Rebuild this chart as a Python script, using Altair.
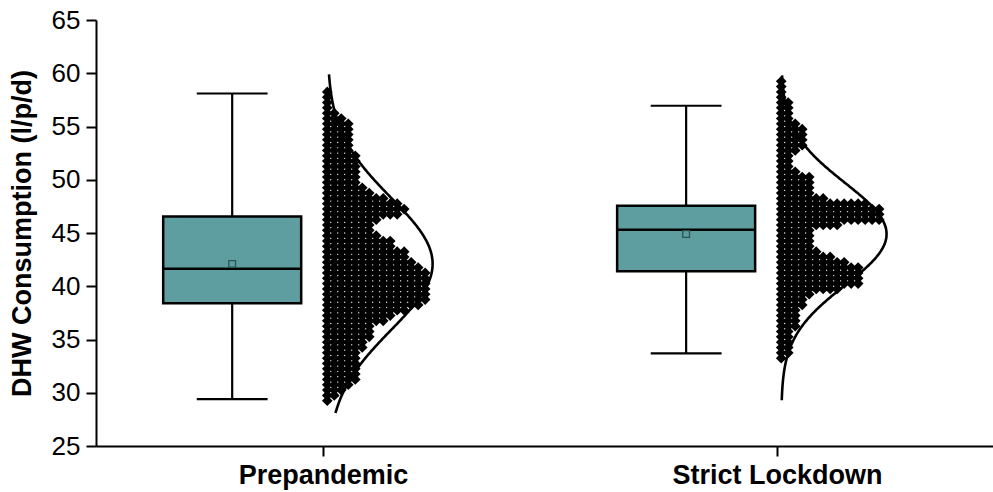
import altair as alt
import pandas as pd

FONT = "Liberation Sans"

groups = ["Prepandemic", "Strict Lockdown"]
group_pos = [1, 2]

# box-plot statistics, l/p/d
whisker_low = [29.4, 33.7]
q1 = [38.4, 41.4]
median = [41.65, 45.3]
q3 = [46.55, 47.55]
whisker_high = [58.1, 56.95]
mean = [42.1, 44.9]

# normal fit drawn beside each box
fit_sd = [6.2, 4.8]
fit_lo = [28.1, 29.3]
fit_hi = [59.9, 59.8]

# daily values binned in 0.5 l/p/d steps (bin centres 29.25 ... 59.25)
bin_centres = [29.25 + 0.5 * i for i in range(61)]
pre_counts = [1, 2, 3, 4, 5, 5, 5, 5, 5, 5,
              6, 6, 7, 7, 7, 9, 10, 12, 14, 15,
              15, 15, 15, 15, 15, 14, 13, 12, 12, 10,
              10, 8, 7, 7, 8, 11, 12, 11, 9, 7,
              6, 5, 5, 5, 5, 5, 5, 4, 4, 4,
              4, 4, 4, 3, 2, 1, 1, 1, 1, 0,
              0]
lock_counts = [0, 0, 0, 0, 0, 0, 0, 0,
               1, 2, 2, 2, 2, 2, 3, 3, 3, 3, 4, 4,
               5, 9, 12, 12, 12, 12, 10, 8, 6, 5, 5, 5,
               5, 9, 15, 15, 15, 13, 7, 5, 5, 5, 5, 3,
               2, 2, 2, 3, 4, 4, 4, 4, 3, 2, 2, 2,
               2, 1, 1, 1, 1]

# layout constants (x-axis units)
BOX_SHIFT = -0.2
BOX_HALF = 0.152
CAP_HALF = 0.078
DOT_START = 0.0095
DOT_STEP = 0.0154
CURVE_AMP = 0.232

boxes = pd.DataFrame({
    "group": groups, "pos": group_pos, "lo": whisker_low, "q1": q1,
    "median": median, "q3": q3, "hi": whisker_high, "mean": mean,
})

rows = []
for g, p, counts in zip(groups, group_pos, [pre_counts, lock_counts]):
    for v, n in zip(bin_centres, counts):
        for k in range(n):
            rows.append({"group": g, "pos": p, "value": v, "k": k})
dots = pd.DataFrame(rows)

x_scale = alt.Scale(domain=[0.5, 2.476], nice=False, zero=False)
y_scale = alt.Scale(domain=[25, 65], nice=False, zero=False)

x_axis = alt.Axis(
    values=[1, 2],
    labelExpr="datum.value == 1 ? 'Prepandemic' : 'Strict Lockdown'",
    title=None, grid=False, domainColor="black", domainWidth=2,
    tickColor="black", tickWidth=2, tickSize=10,
    labelFont=FONT, labelFontSize=27, labelFontWeight="bold",
    labelColor="black", labelPadding=6, labelFlush=False, labelLimit=0,
)
y_axis = alt.Axis(
    values=[25 + 2.5 * i for i in range(17)],
    labelExpr="datum.value % 5 === 0 ? datum.label : ''",
    title="DHW Consumption (l/p/d)", grid=False,
    domainColor="black", domainWidth=2, tickColor="black", tickWidth=2,
    tickSize={"condition": {"test": "datum.value % 5 === 0", "value": 10}, "value": 6},
    labelFont=FONT, labelFontSize=26, labelColor="black", labelPadding=6,
    titleFont=FONT, titleFontSize=27, titleFontWeight="bold", titleColor="black",
    titleX=-74, titleY=213, titleAngle=270, titleAlign="center", titleBaseline="middle",
)

base = alt.Chart(boxes).transform_calculate(
    bx=f"datum.pos + ({BOX_SHIFT})",
    bx1=f"datum.pos + ({BOX_SHIFT}) - {BOX_HALF}",
    bx2=f"datum.pos + ({BOX_SHIFT}) + {BOX_HALF}",
    c1=f"datum.pos + ({BOX_SHIFT}) - {CAP_HALF}",
    c2=f"datum.pos + ({BOX_SHIFT}) + {CAP_HALF}",
)

whisker = base.mark_rule(color="black", strokeWidth=2.2).encode(
    x=alt.X("bx:Q", scale=x_scale, axis=x_axis),
    y=alt.Y("lo:Q", scale=y_scale, axis=y_axis),
    y2="hi:Q",
)
cap_lo = base.mark_rule(color="black", strokeWidth=2.2).encode(
    x="c1:Q", x2="c2:Q", y="lo:Q")
cap_hi = base.mark_rule(color="black", strokeWidth=2.2).encode(
    x="c1:Q", x2="c2:Q", y="hi:Q")
box = base.mark_rect(fill="#5F9EA0", stroke="black", strokeWidth=2.5).encode(
    x="bx1:Q", x2="bx2:Q", y="q1:Q", y2="q3:Q")
med = base.mark_rule(color="black", strokeWidth=2.5).encode(
    x="bx1:Q", x2="bx2:Q", y="median:Q")
mean_pt = base.mark_point(shape="square", size=45, filled=False,
                          color="#2A5456", strokeWidth=1.3, opacity=1).encode(
    x="bx:Q", y="mean:Q")

points = alt.Chart(dots).transform_calculate(
    xd=f"datum.pos + {DOT_START} + datum.k * {DOT_STEP}"
).mark_point(shape="diamond", size=115, filled=True, color="black", opacity=1).encode(
    x="xd:Q", y="value:Q")


def fit_curve(i):
    return alt.Chart(alt.sequence(fit_lo[i], fit_hi[i] + 0.01, 0.05, as_="v")).transform_calculate(
        xc=f"{group_pos[i]} + {DOT_START} + {CURVE_AMP} * exp(-0.5 * pow((datum.v - {mean[i]}) / {fit_sd[i]}, 2))"
    ).mark_line(color="black", strokeWidth=2.6).encode(
        x="xc:Q", y="v:Q", order="v:Q")


chart = alt.layer(
    whisker, cap_lo, cap_hi, box, med, mean_pt, points, fit_curve(0), fit_curve(1)
).properties(
    width=897, height=426,
    padding={"left": 96, "top": 20, "right": 0, "bottom": 46},
    autosize=alt.AutoSizeParams(type="none"),
    background="white",
).configure_view(stroke=None)

chart.save("out.html", embed_options={"renderer": "svg", "actions": False})
